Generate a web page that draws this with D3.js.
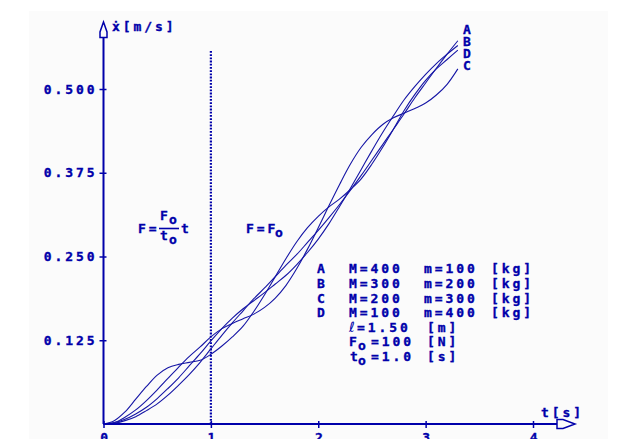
<!DOCTYPE html>
<html><head><meta charset="utf-8">
<script src="https://cdn.jsdelivr.net/npm/d3@7"></script>
<style>
body{margin:0;background:#fff}
svg{display:block}
.t{font-family:"DejaVu Sans Mono",monospace;font-weight:bold;font-size:13px;letter-spacing:2.9px;fill:#0000aa;stroke:#0000aa;stroke-width:0.35px}
</style>
</head><body>
<svg id="chart" width="627" height="439"></svg>
<script>
// time samples [s]
const time = [0,0.1,0.2,0.3,0.4,0.5,0.6,0.7,0.8,0.9,1.0,1.1,1.2,1.3,1.4,1.5,1.6,1.7,1.8,1.9,2.0,2.1,2.2,2.3,2.4,2.5,2.6,2.7,2.8,2.9,3.0,3.1,3.2,3.3];
// cart velocity x' [m/s] for each case
const seriesA = [0,0.001,0.005,0.011,0.020,0.030,0.043,0.058,0.074,0.092,0.112,0.132,0.151,0.169,0.187,0.203,0.220,0.237,0.253,0.271,0.289,0.308,0.328,0.349,0.371,0.394,0.417,0.440,0.463,0.487,0.509,0.531,0.552,0.572];
const seriesB = [0,0.002,0.007,0.015,0.025,0.038,0.053,0.069,0.087,0.105,0.124,0.142,0.158,0.172,0.184,0.196,0.209,0.222,0.238,0.256,0.276,0.299,0.325,0.352,0.380,0.408,0.435,0.460,0.484,0.504,0.522,0.538,0.552,0.565];
const seriesC = [0,0.002,0.010,0.021,0.035,0.051,0.068,0.085,0.101,0.115,0.130,0.142,0.150,0.157,0.164,0.174,0.188,0.207,0.232,0.261,0.293,0.326,0.358,0.388,0.413,0.432,0.447,0.457,0.464,0.471,0.479,0.491,0.507,0.530];
const seriesD = [0,0.005,0.018,0.037,0.056,0.073,0.084,0.089,0.092,0.095,0.104,0.116,0.130,0.146,0.168,0.193,0.220,0.247,0.272,0.293,0.310,0.324,0.336,0.350,0.366,0.388,0.413,0.440,0.468,0.492,0.513,0.530,0.544,0.558];
const seriesNames = ["A","B","C","D"];
const endLabels = ["A","B","D","C"];
const xTicks = [0,1,2,3,4];
const yTicks = [0.125,0.250,0.375,0.500];
const legendLetters = ["A","B","C","D"];
const legendM = ["M=400","M=300","M=200","M=100"];
const legendm = ["m=100","m=200","m=300","m=400"];
const legendUnit = ["[kg]","[kg]","[kg]","[kg]"];

const blue = "#0000aa";
const svg = d3.select("#chart");
svg.append("rect").attr("x",29).attr("y",11).attr("width",579).attr("height",428).attr("fill","#fbfbfb");

const x = d3.scaleLinear().domain([0,4]).range([103.5,533]);
const y = d3.scaleLinear().domain([0,0.5]).range([424,89]);

// dotted line at t0
svg.append("line").attr("x1",x(1)).attr("x2",x(1)).attr("y1",51).attr("y2",y(0))
  .attr("stroke",blue).attr("stroke-width",2.2).attr("stroke-dasharray","1.8,1.4");

// curves
const allSeries = [seriesA,seriesB,seriesC,seriesD];
const line = d3.line().x((d,i)=>x(time[i])).y(d=>y(d)).curve(d3.curveCatmullRom.alpha(0.5));
svg.append("g").selectAll("path").data(allSeries).join("path")
  .attr("d",line).attr("fill","none").attr("stroke","#1515a5").attr("stroke-width",1.1);

// axes
const yAxis = d3.axisLeft(y).tickValues(yTicks).tickFormat(d3.format(".3f")).tickSize(4).tickPadding(2);
const gy = svg.append("g").attr("transform",`translate(${x(0)},0)`).call(yAxis);
gy.select(".domain").remove();
gy.selectAll(".tick line").attr("x1",3).attr("stroke",blue).attr("stroke-width",1.5);
gy.selectAll(".tick text").attr("class","t").attr("font-size",null).attr("font-family",null).attr("fill",blue);

const xAxis = d3.axisBottom(x).tickValues(xTicks).tickFormat(d3.format("d")).tickSize(4).tickPadding(5);
const gx = svg.append("g").attr("transform",`translate(0,${y(0)})`).call(xAxis);
gx.select(".domain").remove();
gx.selectAll(".tick line").attr("y1",-3).attr("stroke",blue).attr("stroke-width",1.5);
gx.selectAll(".tick text").attr("class","t").attr("font-size",null).attr("font-family",null).attr("fill",blue).attr("dx","1.5");

// axis lines with arrows
svg.append("line").attr("x1",x(0)).attr("x2",x(0)).attr("y1",y(0)).attr("y2",37.5).attr("stroke",blue).attr("stroke-width",2);
svg.append("line").attr("x1",x(0)).attr("x2",557).attr("y1",y(0)).attr("y2",y(0)).attr("stroke",blue).attr("stroke-width",2);
svg.append("path").attr("d","M103.5,22 L100,32 L100,37.5 L107,37.5 L107,32 Z")
  .attr("fill","#fbfbfb").attr("stroke",blue).attr("stroke-width",1.5);
svg.append("path").attr("d","M557,419.5 L563,419.5 L575,424 L563,428.5 L557,428.5 Z")
  .attr("fill","#fbfbfb").attr("stroke",blue).attr("stroke-width",1.5);

svg.append("text").attr("class","t").attr("x",112).attr("y",31).text("ẋ[m/s]");
svg.append("text").attr("class","t").attr("x",541).attr("y",416.5).text("t[s]");

// end labels
svg.append("g").selectAll("text").data(endLabels).join("text").attr("class","t")
  .attr("x",463).attr("y",(d,i)=>34+i*12).text(d=>d);

// region labels
svg.append("text").attr("class","t").attr("x",138).attr("y",233).text("F=");
svg.append("text").attr("class","t").attr("x",160).attr("y",220).text("F");
svg.append("text").attr("class","t").attr("x",169).attr("y",224).text("o");
svg.append("line").attr("x1",159).attr("x2",179).attr("y1",228.5).attr("y2",228.5).attr("stroke",blue).attr("stroke-width",1.6);
svg.append("text").attr("class","t").attr("x",160).attr("y",240).text("t");
svg.append("text").attr("class","t").attr("x",169).attr("y",244).text("o");
svg.append("text").attr("class","t").attr("x",181).attr("y",233).text("t");

svg.append("text").attr("class","t").attr("x",246).attr("y",232.5).text("F=F");
svg.append("text").attr("class","t").attr("x",275).attr("y",237).text("o");

// legend
const rowY = [273,288,302.5,317,332,346,361];
const lg = svg.append("g");
legendLetters.forEach((l,i)=>{
  lg.append("text").attr("class","t").attr("x",317).attr("y",rowY[i]).text(l);
  lg.append("text").attr("class","t").attr("x",349).attr("y",rowY[i]).text(legendM[i]);
  lg.append("text").attr("class","t").attr("x",424).attr("y",rowY[i]).text(legendm[i]);
  lg.append("text").attr("class","t").attr("x",491).attr("y",rowY[i]).text(legendUnit[i]);
});
lg.append("text").attr("x",349).attr("y",rowY[4]).attr("fill",blue)
  .attr("font-family","DejaVu Sans").attr("font-size","14px").text("ℓ");
lg.append("text").attr("class","t").attr("x",357).attr("y",rowY[4]).text("=1.50");
lg.append("text").attr("class","t").attr("x",427).attr("y",rowY[4]).text("[m]");
lg.append("text").attr("class","t").attr("x",349).attr("y",rowY[5]).text("F");
lg.append("text").attr("class","t").attr("x",358).attr("y",rowY[5]+4).text("o");
lg.append("text").attr("class","t").attr("x",371).attr("y",rowY[5]).text("=100");
lg.append("text").attr("class","t").attr("x",427).attr("y",rowY[5]).text("[N]");
lg.append("text").attr("class","t").attr("x",350).attr("y",rowY[6]).text("t");
lg.append("text").attr("class","t").attr("x",358).attr("y",rowY[6]+4).text("o");
lg.append("text").attr("class","t").attr("x",371).attr("y",rowY[6]).text("=1.0");
lg.append("text").attr("class","t").attr("x",427).attr("y",rowY[6]).text("[s]");
</script>
</body></html>
